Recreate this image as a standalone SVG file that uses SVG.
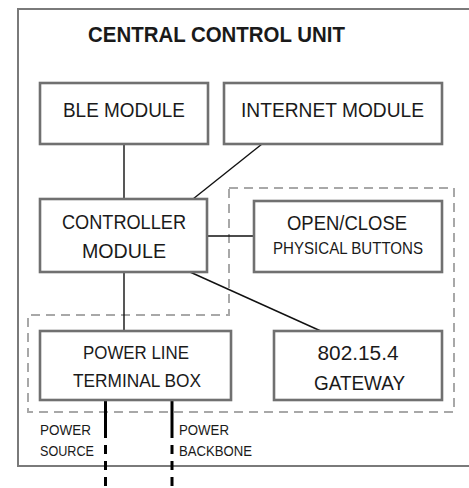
<svg xmlns="http://www.w3.org/2000/svg" width="469" height="488" viewBox="0 0 469 488">
<style>
.box{fill:#fff;stroke:#707070;stroke-width:2.6}
.outer{fill:#fff;stroke:#7a7a7a;stroke-width:2}
.dash{fill:none;stroke:#a8a8a8;stroke-width:2;stroke-dasharray:9,6}
.conn{stroke:#111;stroke-width:1.4;fill:none}
.pw{stroke:#000;stroke-width:3;fill:none}
.pwd{stroke:#000;stroke-width:3;fill:none;stroke-dasharray:9,7}
text{font-family:"Liberation Sans",Arial,sans-serif;fill:#1a1a1a;text-anchor:middle}
.lbl{text-anchor:start;font-size:14.5px}
</style>
<rect width="469" height="488" fill="#fff"/>
<g id="central-control-unit">
<rect class="outer" x="18" y="9" width="462" height="457"/>
<text x="216.5" y="42" font-size="21.5" font-weight="bold" textLength="257" lengthAdjust="spacingAndGlyphs">CENTRAL CONTROL UNIT</text>
</g>
<path id="dashed-group" class="dash" d="M229,188 H454 V412 H28 V315 H229 Z"/>
<g id="connectors">
<line class="conn" x1="124" y1="144" x2="124" y2="199"/>
<line class="conn" x1="262" y1="144" x2="193" y2="199"/>
<line class="conn" x1="207" y1="236" x2="254" y2="236"/>
<line class="conn" x1="190" y1="272" x2="323" y2="332"/>
<line class="conn" x1="124" y1="272" x2="124" y2="331"/>
<line class="pw" x1="105.5" y1="400" x2="105.5" y2="438"/>
<line class="pwd" x1="105.5" y1="445" x2="105.5" y2="488"/>
<line class="pw" x1="172" y1="400" x2="172" y2="438"/>
<line class="pwd" x1="172" y1="445" x2="172" y2="488"/>
</g>
<g id="ble-module">
<rect class="box" x="40" y="83" width="168" height="61"/>
<text x="124" y="117" font-size="20" textLength="122" lengthAdjust="spacingAndGlyphs">BLE MODULE</text>
</g>
<g id="internet-module">
<rect class="box" x="224" y="83" width="218" height="61"/>
<text x="332.5" y="117" font-size="20" textLength="183" lengthAdjust="spacingAndGlyphs">INTERNET MODULE</text>
</g>
<g id="controller-module">
<rect class="box" x="40" y="199" width="167" height="73"/>
<text x="124" y="228.5" font-size="21" textLength="124" lengthAdjust="spacingAndGlyphs">CONTROLLER</text>
<text x="124" y="258" font-size="21" textLength="84" lengthAdjust="spacingAndGlyphs">MODULE</text>
</g>
<g id="open-close-buttons">
<rect class="box" x="254" y="201" width="188" height="71"/>
<text x="347" y="230" font-size="21" textLength="120" lengthAdjust="spacingAndGlyphs">OPEN/CLOSE</text>
<text x="348" y="254" font-size="16.5" textLength="150" lengthAdjust="spacingAndGlyphs">PHYSICAL BUTTONS</text>
</g>
<g id="power-line-terminal-box">
<rect class="box" x="40" y="331" width="191" height="69"/>
<text x="136" y="359" font-size="18" textLength="106" lengthAdjust="spacingAndGlyphs">POWER LINE</text>
<text x="137" y="387" font-size="18" textLength="128" lengthAdjust="spacingAndGlyphs">TERMINAL BOX</text>
</g>
<g id="gateway">
<rect class="box" x="274" y="331" width="168" height="69"/>
<text x="358" y="360" font-size="20.5" textLength="81" lengthAdjust="spacingAndGlyphs">802.15.4</text>
<text x="359.5" y="390" font-size="20.5" textLength="91" lengthAdjust="spacingAndGlyphs">GATEWAY</text>
</g>
<g id="power-labels">
<text class="lbl" x="40" y="435" textLength="51" lengthAdjust="spacingAndGlyphs">POWER</text>
<text class="lbl" x="40" y="456" textLength="54" lengthAdjust="spacingAndGlyphs">SOURCE</text>
<text class="lbl" x="179" y="435" textLength="50" lengthAdjust="spacingAndGlyphs">POWER</text>
<text class="lbl" x="179" y="456" textLength="73" lengthAdjust="spacingAndGlyphs">BACKBONE</text>
</g>
</svg>
